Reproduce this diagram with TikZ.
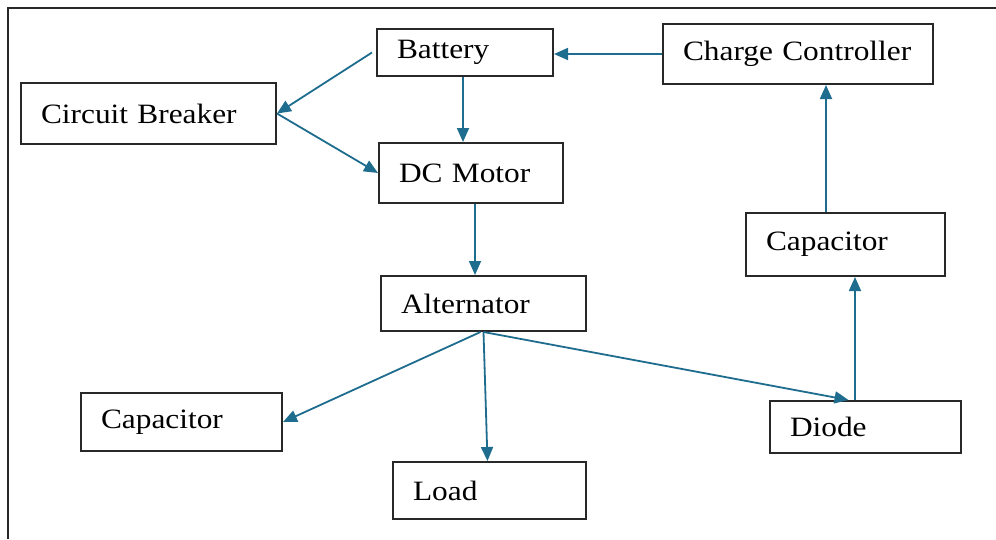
\documentclass[tikz,border=0pt]{standalone}
\usepackage{fontspec}
\setmainfont{Liberation Serif}[FakeStretch=1.12]
\usepackage{tikz}
\usetikzlibrary{arrows.meta, positioning, calc}
\definecolor{flowblue}{RGB}{30,108,142}
\definecolor{edgegray}{RGB}{40,40,40}

\begin{document}
\begin{tikzpicture}[x=1pt, y=-1pt,
  box/.style={rectangle, draw=edgegray, line width=2pt, inner xsep=20pt, inner ysep=0pt,
              align=left, font=\fontsize{28}{32}\selectfont},
  arr/.style={-{Triangle[length=14pt, width=12pt]}, line width=1.8pt, color=flowblue}
]
  \useasboundingbox (0,0) rectangle (996,539);
  \draw[line width=2pt, edgegray] (8,539) -- (8,8) -- (996,8);

  \node[box, text width=136pt, minimum height=47pt] (batt)  at (465,52.5)   {Battery};
  \node[box, text width=230pt, minimum height=60pt] (cc)    at (798,54)     {Charge Controller};
  \node[box, text width=215pt, minimum height=61pt] (cb)    at (148.5,113.5){Circuit Breaker};
  \node[box, text width=144pt, minimum height=60pt] (dcm)   at (471,173)    {DC Motor};
  \node[box, text width=159pt, minimum height=63pt] (capR)  at (845.5,244.5){Capacitor};
  \node[box, text width=165pt, minimum height=55pt] (alt)   at (483.5,303.5){Alternator};
  \node[box, text width=161pt, minimum height=58pt] (capL)  at (181.5,422)  {Capacitor};
  \node[box, text width=151pt, minimum height=52pt] (diode) at (865.5,427)  {Diode};
  \node[box, text width=153pt, minimum height=57pt] (load)  at (489.5,490.5){Load};

  \draw[arr] (cc.west) -- (cc.west -| batt.east);
  \draw[arr] ([xshift=-4pt]batt.west) -- (cb.east);
  \draw[arr] (cb.east) -- (dcm.west);
  \draw[arr] ([xshift=-2pt]batt.south) -- ([xshift=-2pt]batt.south |- dcm.north);
  \draw[arr] ([xshift=4pt]dcm.south) -- ([xshift=4pt]dcm.south |- alt.north);
  \draw[arr] ([xshift=-3pt]alt.south) -- (capL.east);
  \draw[arr] (alt.south) -- ([xshift=-2pt]load.north);
  \draw[arr] (alt.south) -- ([xshift=-17pt]diode.north);
  \draw[arr] ([xshift=-10.5pt]diode.north) -- ([xshift=9.5pt]capR.south);
  \draw[arr] ([xshift=-19.5pt]capR.north) -- ([xshift=28pt]cc.south);
\end{tikzpicture}
\end{document}
